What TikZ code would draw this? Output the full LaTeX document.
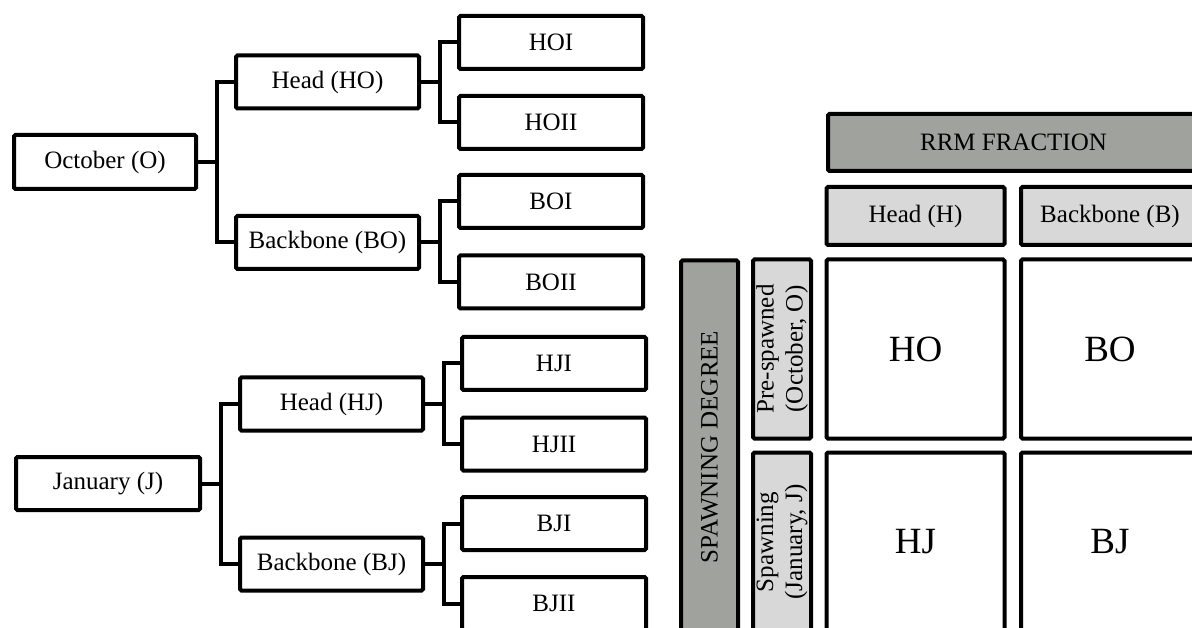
\documentclass[tikz,border=0pt]{standalone}
\usepackage{fontspec}
\setmainfont{Liberation Serif}
\definecolor{RRMdark}{RGB}{160,162,158}
\definecolor{RRMlight}{RGB}{216,216,216}
\tikzset{
  sbox/.style={rectangle, draw=black, fill=white, line width=4pt, rounded corners=1.5pt,
               minimum width=183pt, minimum height=53pt, inner sep=0pt,
               font=\fontsize{25}{29}\selectfont},
  sline/.style={line width=4pt, black},
  sleaf/.style={sbox, minimum width=184pt},
  sdark/.style={sbox, fill=RRMdark},
  slight/.style={sbox, fill=RRMlight, minimum width=178pt, minimum height=58pt},
  scell/.style={sbox, minimum width=178pt, minimum height=179pt,
                font=\fontsize{37}{40}\selectfont},
  sside/.style={slight, rotate=90, minimum width=179pt, minimum height=58pt, align=center},
}

\begin{document}
\begin{tikzpicture}[x=1pt, y=-1pt]
  \path[use as bounding box, clip] (0,0) rectangle (1192,628);
  % October tree
  \node[sbox, minimum width=182pt, minimum height=54pt] (oct) at (105,162) {October (O)};
  \node[sbox] (ho) at (327.5,82)  {Head (HO)};
  \node[sbox] (bo) at (327.5,242.5) {Backbone (BO)};
  \node[sleaf] (hoi)  at (551,42.5)  {HOI};
  \node[sleaf] (hoii) at (551,122.5) {HOII};
  \node[sleaf] (boi)  at (551,201.5) {BOI};
  \node[sleaf] (boii) at (551,282)   {BOII};
  \draw[sline] (oct.east) -- ++(18.5,0) |- (ho.west);
  \draw[sline] (oct.east) -- ++(18.5,0) |- (bo.west);
  \draw[sline] (ho.east) -- ++(19,0) |- (hoi.west);
  \draw[sline] (ho.east) -- ++(19,0) |- (hoii.west);
  \draw[sline] (bo.east) -- ++(19,0) |- (boi.west);
  \draw[sline] (bo.east) -- ++(19,0) |- (boii.west);
  % January tree
  \node[sbox, minimum width=184pt] (jan) at (108,483.5) {January (J)};
  \node[sbox] (hj) at (331.5,404) {Head (HJ)};
  \node[sbox] (bj) at (331.5,564) {Backbone (BJ)};
  \node[sleaf] (hji)  at (554,363.5) {HJI};
  \node[sleaf] (hjii) at (554,444)   {HJII};
  \node[sleaf] (bji)  at (554,523.5) {BJI};
  \node[sleaf] (bjii) at (554,603.5) {BJII};
  \draw[sline] (jan.east) -- ++(18.5,0) |- (hj.west);
  \draw[sline] (jan.east) -- ++(18.5,0) |- (bj.west);
  \draw[sline] (hj.east) -- ++(19,0) |- (hji.west);
  \draw[sline] (hj.east) -- ++(19,0) |- (hjii.west);
  \draw[sline] (bj.east) -- ++(19,0) |- (bji.west);
  \draw[sline] (bj.east) -- ++(19,0) |- (bjii.west);
  % matrix
  \node[sdark, minimum width=371pt, minimum height=57pt] (rrm) at (1013.5,142.5) {RRM FRACTION};
  \node[slight] (colh) at (915.5,216) {Head (H)};
  \node[slight] (colb) at (1110,216)  {Backbone (B)};
  \node[sdark, rotate=90, minimum width=373pt, minimum height=57pt] (spawn) at (709.5,447) {SPAWNING DEGREE};
  \node[sside] (rowo) at (782,349) {Pre-spawned\\(October, O)};
  \node[sside] (rowj) at (782,542) {Spawning\\(January, J)};
  \node[scell] (cho) at (915.5,349) {HO};
  \node[scell] (cbo) at (1110,349)  {BO};
  \node[scell] (chj) at (915.5,542) {HJ};
  \node[scell] (cbj) at (1110,542)  {BJ};
\end{tikzpicture}
\end{document}
